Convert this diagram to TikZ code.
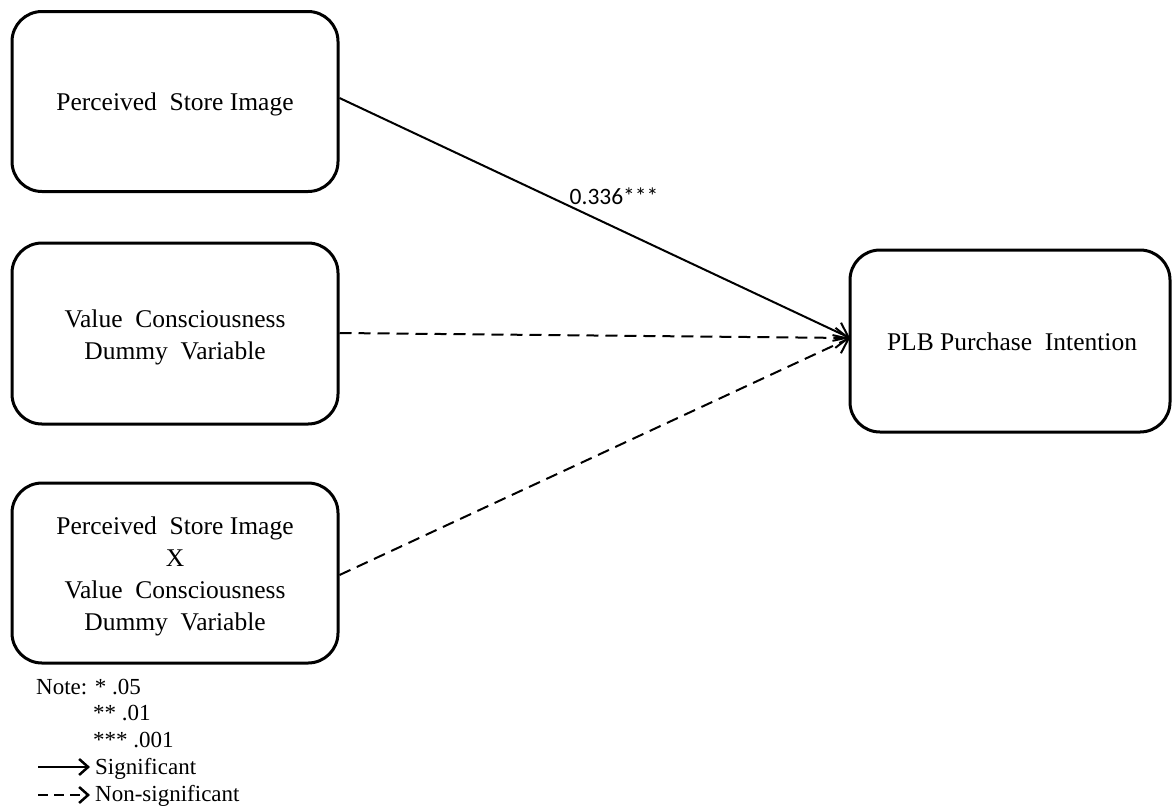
\documentclass[tikz,border=0pt]{standalone}
\usepackage{fontspec}
\setmainfont{Liberation Serif}
\newfontfamily\labelfont{Carlito}
\usetikzlibrary{arrows.meta}
\begin{document}
\begin{tikzpicture}[x=1pt,y=-1pt,
  box/.style={draw=black,line width=3pt,rounded corners=30pt,minimum width=326pt,minimum height=180pt,align=center,inner sep=0pt,font=\fontsize{25.5}{32}\selectfont},
  conn/.style={line width=2pt,-{Straight Barb[length=13pt,width=20pt,line width=2pt]}},
  lconn/.style={line width=2.2pt,-{Straight Barb[length=9pt,width=16pt,line width=2.5pt]}},
  dsh/.style={dash pattern=on 12pt off 7pt},
  note/.style={anchor=base west,inner sep=0pt,font=\fontsize{23}{27}\selectfont}]
\useasboundingbox (0,0) rectangle (1172,807);
\node[box] (psi) at (175,101.5) {};
\node[box,minimum height=181pt] (vc) at (175,333.5) {};
\node[box] (int) at (175,573) {};
\node[box,minimum width=320pt,minimum height=182pt] (plb) at (1010,341) {};
\node[align=center,inner sep=0pt,font=\fontsize{25.5}{32}\selectfont] (psit) at (175,104.5) {Perceived\ \ Store Image};
\node[align=center,inner sep=0pt,font=\fontsize{25.5}{32}\selectfont] (vct) at (175,337) {Value\ \ Consciousness\\Dummy\ \ Variable};
\node[align=center,inner sep=0pt,font=\fontsize{25.5}{32}\selectfont] (intt) at (175,576) {Perceived\ \ Store Image\\X\\Value\ \ Consciousness\\Dummy\ \ Variable};
\node[align=center,inner sep=0pt,font=\fontsize{25.5}{32}\selectfont] (plbt) at (1012,342) {PLB\ Purchase\ \ Intention};
\coordinate (tip) at (850,338);
\draw[conn] (psi.east |- 0,98) -- (tip);
\draw[conn,dsh] (vc.east |- 0,333) -- (tip);
\draw[conn,dsh] (int.east |- 0,575) -- (tip);
\node[inner sep=0pt,font=\labelfont\fontsize{23.5}{28}\selectfont] (lab) at (614,196) {0.336***};
\node[note] (n1) at (36,694) {Note: * .05};
\node[note] (n2) at (93,720) {** .01};
\node[note] (n3) at (93,747) {*** .001};
\node[note] (n4) at (95,774) {Significant};
\node[note] (n5) at (95,801) {Non-significant};
\coordinate (s1) at (38,767);
\coordinate (e1) at (90,767);
\coordinate (s2) at (38,795);
\coordinate (e2) at (90,795);
\draw[lconn] (s1) -- (e1);
\draw[lconn,dash pattern=on 10pt off 6pt] (s2) -- (e2);
\end{tikzpicture}
\end{document}
